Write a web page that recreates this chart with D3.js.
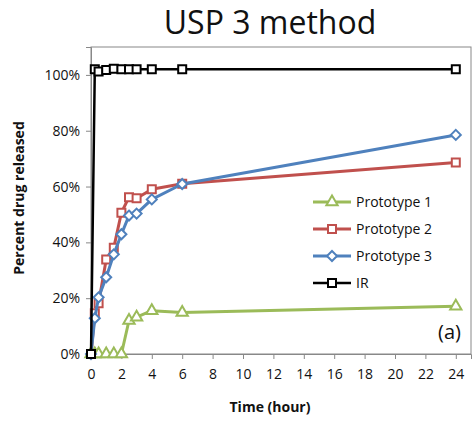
<!DOCTYPE html>
<html>
<head>
<meta charset="utf-8">
<script src="https://cdn.jsdelivr.net/npm/d3@7"></script>
<style>
  html, body { margin: 0; padding: 0; background: #fff; }
  svg { display: block; }
  text { font-family: "Open Sans", "Noto Sans", sans-serif; fill: #111; }
</style>
</head>
<body>
<svg id="chart" width="472" height="421"></svg>
<script>
// Sampling times (hours)
const times = [0, 0.25, 0.5, 1, 1.5, 2, 2.5, 3, 4, 6, 24];

// Cumulative fraction of drug released at each time
const prototype1 = [0, 0, 0, 0, 0, 0, 0.12, 0.132, 0.155, 0.149, 0.171];
const prototype2 = [0, 0.146, 0.182, 0.339, 0.381, 0.506, 0.562, 0.558, 0.59, 0.61, 0.686];
const prototype3 = [0, 0.128, 0.203, 0.275, 0.357, 0.429, 0.496, 0.503, 0.554, 0.609, 0.785];
const irRelease  = [0, 1.02, 1.012, 1.018, 1.022, 1.02, 1.02, 1.02, 1.02, 1.02, 1.02];

const seriesNames = ["Prototype 1", "Prototype 2", "Prototype 3", "IR"];
const seriesValues = [prototype1, prototype2, prototype3, irRelease];
const seriesColors = ["#9BBB59", "#C0504D", "#4F81BD", "#000000"];
const seriesMarkers = ["triangle", "square", "diamond", "square"];

const xTicks = [0, 2, 4, 6, 8, 10, 12, 14, 16, 18, 20, 22, 24];
const yTicks = [0, 0.2, 0.4, 0.6, 0.8, 1.0];

const svg = d3.select("#chart");
const plot = { left: 91, right: 471, top: 47, bottom: 354 };

const x = d3.scaleLinear().domain([0, 25]).range([plot.left, plot.right]);
const y = d3.scaleLinear().domain([0, 1.1]).range([plot.bottom, plot.top]);

// Title
svg.append("text")
  .attr("x", 270).attr("y", 34)
  .attr("text-anchor", "middle")
  .style("font-size", "32px")
  .text("USP 3 method");

// Plot area frame
svg.append("rect")
  .attr("x", plot.left).attr("y", plot.top)
  .attr("width", plot.right - plot.left).attr("height", plot.bottom - plot.top)
  .attr("fill", "none").attr("stroke", "#888").attr("stroke-width", 1);

// Axes
const xAxis = svg.append("g")
  .attr("transform", `translate(0,${plot.bottom})`)
  .call(d3.axisBottom(x).tickValues(xTicks).tickSize(5).tickPadding(7).tickFormat(d3.format("d")));
const yAxis = svg.append("g")
  .attr("transform", `translate(${plot.left},0)`)
  .call(d3.axisLeft(y).tickValues(yTicks).tickSize(5).tickPadding(6).tickFormat(d3.format(".0%")));

[xAxis, yAxis].forEach(g => {
  g.select(".domain").attr("stroke", "#888");
  g.selectAll(".tick line").attr("stroke", "#888");
  g.selectAll(".tick text").style("font-size", "14px").style("font-family", "\"Open Sans\", sans-serif").attr("fill", "#111");
});
xAxis.selectAll(".tick text").attr("dy", "0.95em");

// Axis titles
svg.append("text")
  .attr("x", 270).attr("y", 412)
  .attr("text-anchor", "middle")
  .style("font-size", "14px").style("font-weight", "bold")
  .text("Time (hour)");
svg.append("text")
  .attr("transform", `translate(24,198) rotate(-90)`)
  .attr("text-anchor", "middle")
  .style("font-size", "14px").style("font-weight", "bold")
  .text("Percent drug released");

// Marker shapes
function markerPath(kind) {
  if (kind === "triangle") return d3.symbol().type(d3.symbolTriangle).size(55)();
  if (kind === "diamond") return "M0,-5L5,0L0,5L-5,0Z";
  return "M-4,-4H4V4H-4Z";
}

const line = d3.line().x((d, i) => x(times[i])).y(d => y(d));

seriesValues.forEach((vals, s) => {
  const g = svg.append("g");
  const color = seriesColors[s];
  g.append("path")
    .attr("d", line(vals))
    .attr("fill", "none")
    .attr("stroke", color)
    .attr("stroke-width", s === 3 ? 2.5 : 3)
    .attr("stroke-linejoin", "round");
  g.selectAll("path.m")
    .data(vals)
    .enter().append("path")
    .attr("class", "m")
    .attr("transform", (d, i) => `translate(${x(times[i])},${y(d)})`)
    .attr("d", markerPath(seriesMarkers[s]))
    .attr("fill", "#fff")
    .attr("stroke", color)
    .attr("stroke-width", 2);
});

// Legend
const legend = svg.append("g");
seriesNames.forEach((name, s) => {
  const ly = 202 + s * 27;
  const color = seriesColors[s];
  legend.append("line")
    .attr("x1", 313).attr("x2", 351).attr("y1", ly).attr("y2", ly)
    .attr("stroke", color).attr("stroke-width", s === 3 ? 2.5 : 3);
  legend.append("path")
    .attr("transform", `translate(332,${ly})`)
    .attr("d", markerPath(seriesMarkers[s]))
    .attr("fill", "#fff").attr("stroke", color).attr("stroke-width", 2);
  legend.append("text")
    .attr("x", 356).attr("y", ly + 5)
    .style("font-size", "14px")
    .text(name);
});

// Panel label
svg.append("text")
  .attr("x", 461).attr("y", 339)
  .attr("text-anchor", "end")
  .style("font-size", "20px")
  .text("(a)");
</script>
</body>
</html>
